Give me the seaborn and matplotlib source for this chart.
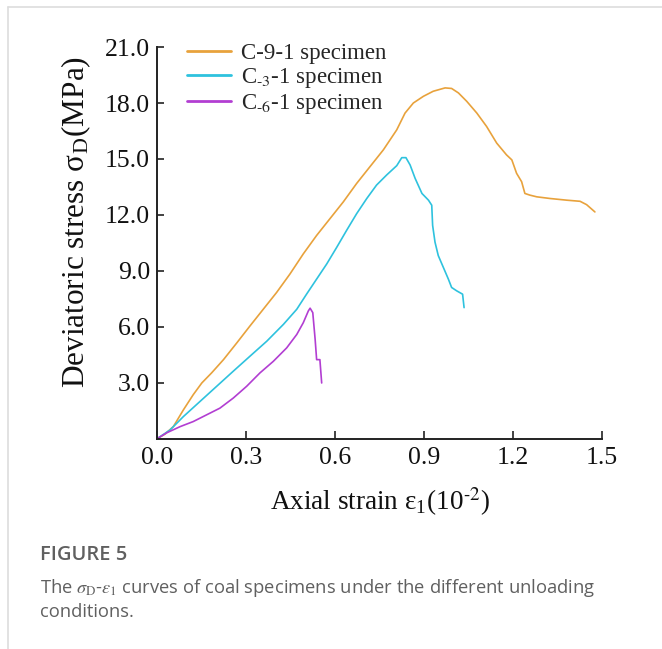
import numpy as np
import pandas as pd
import matplotlib
matplotlib.use("Agg")
import matplotlib.pyplot as plt
import seaborn as sns
from matplotlib.lines import Line2D

# ---------------- data ----------------
c9_strain = [0.0, 0.027, 0.055, 0.089, 0.122, 0.151, 0.184, 0.224, 0.269, 0.313, 0.358,
             0.403, 0.448, 0.493, 0.538, 0.583, 0.628, 0.673, 0.718, 0.763, 0.808,
             0.836, 0.864, 0.898, 0.931, 0.971, 0.993, 1.016, 1.044, 1.078, 1.111,
             1.145, 1.178, 1.196, 1.212, 1.229, 1.240, 1.257, 1.280, 1.325, 1.381,
             1.426, 1.448, 1.476]
c9_stress = [0.0, 0.25, 0.65, 1.55, 2.36, 2.99, 3.53, 4.24, 5.14, 6.04, 6.94,
             7.84, 8.83, 9.91, 10.90, 11.80, 12.70, 13.69, 14.59, 15.49, 16.56,
             17.46, 18.00, 18.36, 18.63, 18.81, 18.78, 18.54, 18.09, 17.46, 16.74,
             15.85, 15.22, 14.95, 14.23, 13.78, 13.15, 13.06, 12.97, 12.88, 12.79,
             12.73, 12.55, 12.16]

c3_strain = [0.0, 0.044, 0.089, 0.145, 0.201, 0.257, 0.313, 0.370, 0.426, 0.471, 0.504,
             0.538, 0.572, 0.606, 0.639, 0.673, 0.707, 0.740, 0.774, 0.808, 0.825,
             0.839, 0.853, 0.870, 0.893, 0.915, 0.926, 0.929, 0.937, 0.948, 0.965,
             0.982, 0.993, 1.010, 1.030, 1.035]
c3_stress = [0.0, 0.47, 1.19, 2.00, 2.81, 3.62, 4.42, 5.23, 6.13, 6.94, 7.75,
             8.56, 9.37, 10.27, 11.17, 12.07, 12.88, 13.60, 14.14, 14.64, 15.07,
             15.07, 14.68, 13.96, 13.15, 12.79, 12.52, 11.44, 10.54, 9.82, 9.19,
             8.56, 8.11, 7.93, 7.75, 7.03]

c6_strain = [0.0, 0.033, 0.078, 0.122, 0.167, 0.212, 0.257, 0.302, 0.347, 0.392,
             0.437, 0.471, 0.493, 0.510, 0.516, 0.525, 0.533, 0.538, 0.549, 0.555]
c6_stress = [0.0, 0.32, 0.65, 0.92, 1.28, 1.64, 2.18, 2.81, 3.53, 4.15,
             4.87, 5.59, 6.22, 6.85, 7.00, 6.76, 5.32, 4.24, 4.24, 2.99]

labels = ["C-9-1 specimen",
          r"C$_{\text{-3}}$-1 specimen",
          r"C$_{\text{-6}}$-1 specimen"]
colors = ["#E8A23C", "#2EC2DE", "#B23ED2"]

x_ticks = [0.0, 0.3, 0.6, 0.9, 1.2, 1.5]
y_ticks = [3.0, 6.0, 9.0, 12.0, 15.0, 18.0, 21.0]

# ---------------- build long table ----------------
df = pd.concat([
    pd.DataFrame({"strain": c9_strain, "stress": c9_stress, "specimen": labels[0]}),
    pd.DataFrame({"strain": c3_strain, "stress": c3_stress, "specimen": labels[1]}),
    pd.DataFrame({"strain": c6_strain, "stress": c6_stress, "specimen": labels[2]}),
], ignore_index=True)

sns.set_theme(style="white")
plt.rcParams["font.family"] = ["Liberation Serif", "DejaVu Serif"]
plt.rcParams["mathtext.fontset"] = "stix"

fig = plt.figure(figsize=(6.62, 6.49), dpi=100)
ax = fig.add_axes([0.2372, 0.3240, 0.6722, 0.6035])

sns.lineplot(data=df, x="strain", y="stress", hue="specimen",
             palette=dict(zip(labels, colors)), hue_order=labels,
             sort=False, estimator=None, linewidth=1.2, ax=ax, legend=False)

ax.set_xlim(0, 1.5)
ax.set_ylim(0, 21)
ax.set_xticks(x_ticks)
ax.set_xticklabels([f"{v:.1f}" for v in x_ticks])
ax.set_yticks(y_ticks)
ax.set_yticklabels([f"{v:.1f}" for v in y_ticks])
ax.tick_params(axis="both", direction="in", width=1.2, bottom=True, left=True,
               labelsize=18.5, color="#222222", labelcolor="#111111")
ax.tick_params(axis="x", length=6, pad=6)
ax.tick_params(axis="y", length=5, pad=5)
for s in ["top", "right"]:
    ax.spines[s].set_visible(False)
for s in ["left", "bottom"]:
    ax.spines[s].set_color("#222222")
    ax.spines[s].set_linewidth(1.4)

ax.set_xlabel(r"Axial strain ε$_{\mathregular{1}}$(10$^{\text{-2}}$)",
              fontsize=19.5, labelpad=12, color="#111111")
ax.set_ylabel(r"Deviatoric stress σ$_{\mathregular{D}}$(MPa)",
              fontsize=22.5, color="#111111")
ax.yaxis.set_label_coords(-0.144, 0.553)

handles = [Line2D([], [], color=c, lw=2.0) for c in colors]
ax.legend(handles, labels, loc="upper left", bbox_to_anchor=(0.047, 1.035),
          frameon=False, fontsize=16.5, handlelength=1.9, handletextpad=0.45,
          labelspacing=0.1, borderaxespad=0)

# caption and frame
fig.text(40 / 662, 1 - 555 / 649, "FIGURE 5", fontsize=14.5, color="#606060",
         family="Open Sans", weight="semibold", va="center")
fig.text(40 / 662, 1 - 588 / 649,
         r"The $\sigma_\mathrm{D}$-$\varepsilon_1$ curves of coal specimens under the different unloading",
         fontsize=13.2, color="#606060", family="Open Sans", va="center")
fig.text(40 / 662, 1 - 612 / 649, "conditions.", fontsize=13.2, color="#606060",
         family="Open Sans", va="center")

fig.add_artist(Line2D([8 / 662, 8 / 662], [0, 1 - 7 / 649], transform=fig.transFigure,
                      color="#dddddd", lw=1.2))
fig.add_artist(Line2D([8 / 662, 1], [1 - 7 / 649, 1 - 7 / 649], transform=fig.transFigure,
                      color="#dddddd", lw=1.2))

fig.savefig("out.png", dpi=100)
